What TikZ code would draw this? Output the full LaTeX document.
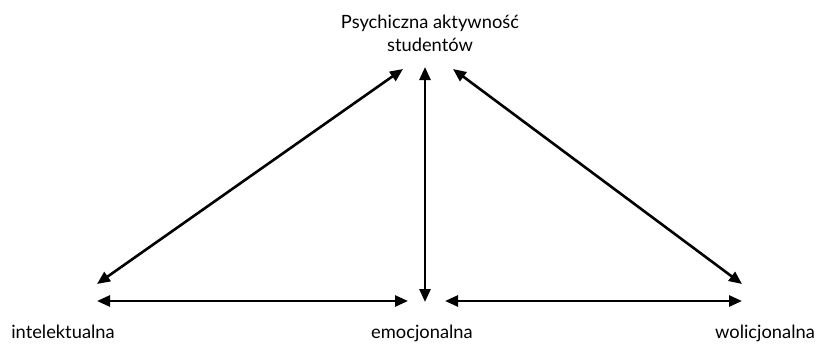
\documentclass[tikz,border=0pt]{standalone}
\usepackage{fontspec}
\setmainfont{Lato}
\usetikzlibrary{arrows.meta}

\begin{document}
\begin{tikzpicture}[x=1pt,y=-1pt,
    label/.style={font=\fontsize{18.3}{23}\selectfont, align=center, inner sep=0pt, anchor=base},
    link/.style={line width=2.6pt, {Triangle[length=13pt,width=11pt]}-{Triangle[length=13pt,width=11pt]}}]
\useasboundingbox (0,0) rectangle (821,343);

% labels
\node[label] (psy) at (430,51) {Psychiczna aktywność\\studentów};
\node[label] (intel) at (63,338) {intelektualna};
\node[label] (emo) at (422,338) {emocjonalna};
\node[label] (wol) at (765,338) {wolicjonalna};

% arrow ends
\coordinate (topL) at (403,69);
\coordinate (topM) at (425,67);
\coordinate (topR) at (453,69);
\coordinate (intelU) at (97,284);
\coordinate (intelR) at (97,301);
\coordinate (emoU) at (425,302);
\coordinate (emoL) at (408,301);
\coordinate (emoR) at (445,301);
\coordinate (wolU) at (742,284);
\coordinate (wolL) at (742,301);

% links
\draw[link] (topL) -- (intelU);
\draw[link] (topM) -- (emoU);
\draw[link] (topR) -- (wolU);
\draw[link] (intelR) -- (emoL);
\draw[link] (emoR) -- (wolL);
\end{tikzpicture}
\end{document}
